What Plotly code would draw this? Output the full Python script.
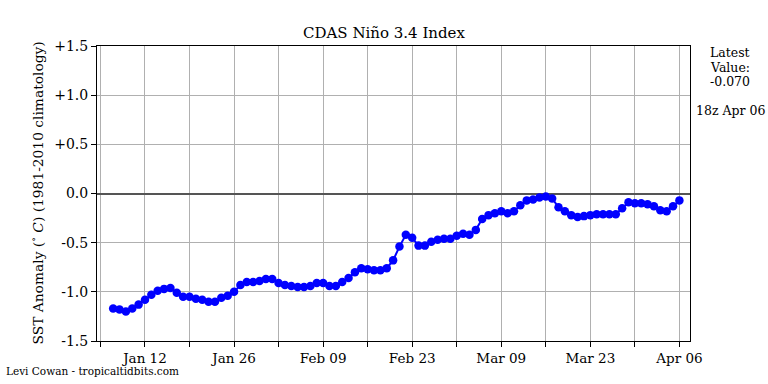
import plotly.graph_objects as go
import pandas as pd

# ---- data ----
start_date = "2023-01-07"
anomaly = [
    -1.17, -1.18, -1.20, -1.17, -1.13, -1.08, -1.03, -0.99, -0.97, -0.96,
    -1.01, -1.05, -1.05, -1.07, -1.08, -1.10, -1.10, -1.06, -1.04, -1.00,
    -0.93, -0.90, -0.90, -0.89, -0.87, -0.87, -0.91, -0.93, -0.94, -0.95,
    -0.95, -0.94, -0.91, -0.91, -0.94, -0.94, -0.90, -0.86, -0.80, -0.76,
    -0.77, -0.78, -0.78, -0.76, -0.68, -0.54, -0.42, -0.45, -0.53, -0.53,
    -0.49, -0.47, -0.46, -0.46, -0.43, -0.41, -0.42, -0.37, -0.26, -0.22,
    -0.20, -0.18, -0.20, -0.18, -0.12, -0.07, -0.06, -0.04, -0.03, -0.05,
    -0.14, -0.18, -0.22, -0.24, -0.23, -0.22, -0.21, -0.21, -0.21, -0.21,
    -0.15, -0.09, -0.10, -0.10, -0.11, -0.13, -0.17, -0.18, -0.13, -0.07,
]
dates = pd.date_range(start_date, periods=len(anomaly), freq="D")

x_tick_dates = pd.date_range("2023-01-05", "2023-04-06", freq="7D")
x_tick_labels = ["", "Jan 12", "", "Jan 26", "", "Feb 09", "", "Feb 23",
                 "", "Mar 09", "", "Mar 23", "", "Apr 06"]
y_tick_vals = [1.5, 1.0, 0.5, 0.0, -0.5, -1.0, -1.5]
y_tick_labels = ["+1.5", "+1.0", "+0.5", "0.0", "-0.5", "-1.0", "-1.5"]

title_text = "CDAS Niño 3.4 Index"
ylabel_text = "SST Anomaly (<sup>∘</sup> <i>C</i>) (1981-2010 climatology)"
credit_text = "Levi Cowan - tropicaltidbits.com"
valid_text = "18z Apr 06"

FONT = "'DejaVu Serif', 'Liberation Serif', serif"

fig = go.Figure()
fig.add_trace(go.Scatter(
    x=dates, y=anomaly, mode="lines+markers",
    line=dict(color="#0000ff", width=2),
    marker=dict(color="#0000ff", size=8.5),
    showlegend=False,
))

L, R, T, B = 97, 78, 46, 43
W, H = 768, 384
pw, ph = W - L - R, H - T - B

def px_x(px):
    return (px - L) / pw

def px_y(py):
    return (H - B - py) / ph

fig.update_layout(
    width=W, height=H,
    margin=dict(l=L, r=R, t=T, b=B),
    paper_bgcolor="white", plot_bgcolor="white",
    font=dict(family=FONT, color="black", size=13),
    title=dict(text=title_text, x=px_x(393.5), xanchor="center",
               y=1 - 33 / H, yanchor="middle",
               font=dict(family=FONT, size=15, color="black")),
)
fig.update_xaxes(
    type="date",
    range=["2023-01-04 11:00", "2023-04-07 16:00"],
    tickvals=list(x_tick_dates), ticktext=x_tick_labels,
    ticks="outside", ticklen=5, tickcolor="black", tickwidth=1,
    showgrid=True, gridcolor="#b0b0b0", gridwidth=1,
    showline=True, linecolor="black", linewidth=1, mirror=True,
    tickfont=dict(family=FONT, size=13.5, color="black"),
    zeroline=False,
)
fig.update_yaxes(
    range=[-1.5, 1.5],
    tickvals=y_tick_vals, ticktext=y_tick_labels,
    ticks="outside", ticklen=5, tickcolor="black", tickwidth=1,
    showgrid=True, gridcolor="#b0b0b0", gridwidth=1,
    showline=True, linecolor="black", linewidth=1, mirror=True,
    tickfont=dict(family=FONT, size=14, color="black"),
    zeroline=True, zerolinecolor="#555555", zerolinewidth=1.5,
)

fig.add_annotation(text=ylabel_text, xref="paper", yref="paper",
                   x=px_x(37), y=0.5, xanchor="center", yanchor="middle",
                   textangle=-90, showarrow=False,
                   font=dict(family=FONT, size=13.8, color="black"))
fig.add_annotation(text=credit_text, xref="paper", yref="paper",
                   x=px_x(4), y=px_y(371), xanchor="left", yanchor="middle",
                   showarrow=False, font=dict(family=FONT, size=10.5, color="black"))

latest_lines = ["Latest", "Value:", f"{anomaly[-1]:.3f}"]
for i, line in enumerate(latest_lines):
    fig.add_annotation(text=line, xref="paper", yref="paper",
                       x=px_x(730), y=px_y(52 + 15 * i), xanchor="center",
                       yanchor="middle", showarrow=False,
                       font=dict(family=FONT, size=12.5, color="black"))
fig.add_annotation(text=valid_text, xref="paper", yref="paper",
                   x=px_x(730), y=px_y(111), xanchor="center", yanchor="middle",
                   showarrow=False, font=dict(family=FONT, size=12.5, color="black"))

fig.write_html(
    "out.html",
    config={"displayModeBar": False},
    post_script="document.body.style.margin='0';document.body.style.overflow='hidden';",
)
